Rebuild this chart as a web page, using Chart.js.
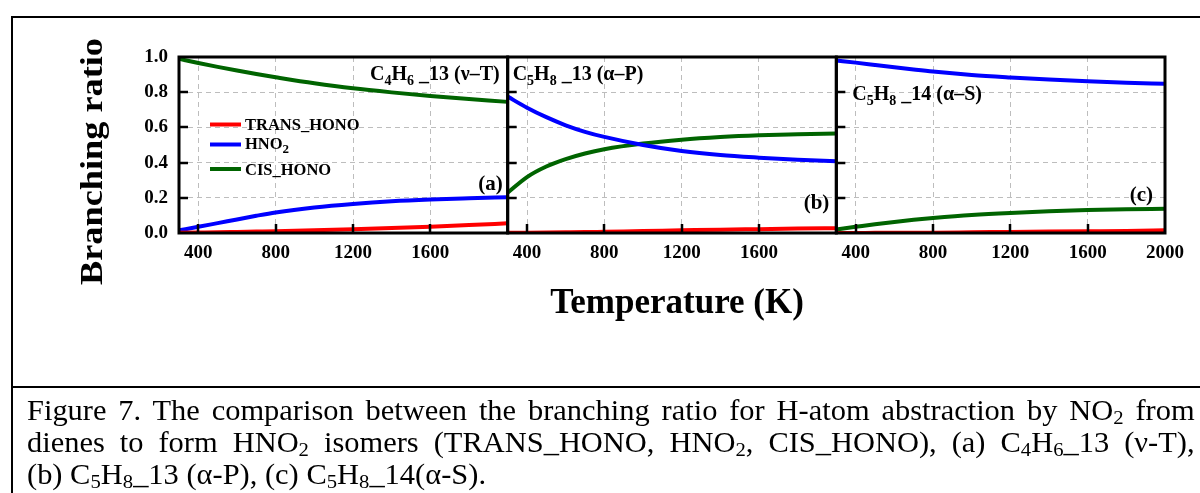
<!DOCTYPE html>
<html>
<head>
<meta charset="utf-8">
<script src="https://cdn.jsdelivr.net/npm/chart.js@4.4.1/dist/chart.umd.min.js"></script>
<style>
  html, body { margin: 0; padding: 0; background: #fff; }
  #wrap { position: relative; width: 1200px; height: 493px; overflow: hidden; background: #fff; }
  #c { position: absolute; left: 0; top: 0; }
  .rule { position: absolute; background: #000; }
  .cap { position: absolute; left: 27px; white-space: nowrap; color: #000;
         font-family: "Liberation Serif", "Times New Roman", serif; font-size: 29px; line-height: 1;
         transform: scaleX(1.05); transform-origin: 0 0; }
  .cap.j { width: 1112px; white-space: normal; text-align: justify; text-align-last: justify; }
  .cap sub { font-size: 0.68em; vertical-align: baseline; position: relative; top: 0.22em; }
</style>
</head>
<body>
<div id="wrap">
  <canvas id="c" width="1200" height="386"></canvas>
  <div class="rule" style="left:11px;top:16px;width:1189px;height:2px"></div>
  <div class="rule" style="left:11px;top:16px;width:2px;height:477px"></div>
  <div class="rule" style="left:11px;top:386px;width:1189px;height:2px"></div>
  <div class="cap j" style="top:396px">Figure 7. The comparison between the branching ratio for H-atom abstraction by NO<sub>2</sub> from</div>
  <div class="cap j" style="top:428px">dienes to form HNO<sub>2</sub> isomers (TRANS_HONO, HNO<sub>2</sub>, CIS_HONO), (a) C<sub>4</sub>H<sub>6</sub>_13 (ν-T),</div>
  <div class="cap" style="top:460px">(b) C<sub>5</sub>H<sub>8</sub>_13 (α-P), (c) C<sub>5</sub>H<sub>8</sub>_14(α-S).</div>
</div>
<script>
// Temperature grid (K)
const temps = [300, 400, 500, 600, 700, 800, 1000, 1200, 1400, 1600, 1800, 2000];

// (a) C4H6_13 (ν-T)
const transA = [0.002, 0.003, 0.004, 0.006, 0.008, 0.010, 0.015, 0.021, 0.028, 0.036, 0.045, 0.055];
const hno2A  = [0.015, 0.035, 0.056, 0.077, 0.098, 0.117, 0.145, 0.165, 0.180, 0.190, 0.197, 0.203];
const cisA   = [0.990, 0.966, 0.944, 0.923, 0.903, 0.885, 0.851, 0.822, 0.799, 0.779, 0.762, 0.745];

// (b) C5H8_13 (α-P)
const transB = [0.001, 0.002, 0.003, 0.004, 0.005, 0.007, 0.011, 0.015, 0.019, 0.022, 0.025, 0.027];
const hno2B  = [0.775, 0.712, 0.658, 0.612, 0.575, 0.546, 0.500, 0.466, 0.443, 0.428, 0.416, 0.407];
const cisB   = [0.229, 0.318, 0.378, 0.420, 0.452, 0.476, 0.508, 0.530, 0.545, 0.555, 0.561, 0.566];

// (c) C5H8_14 (α-S)
const transC = [0.000, 0.000, 0.001, 0.001, 0.002, 0.002, 0.004, 0.006, 0.008, 0.010, 0.012, 0.015];
const hno2C  = [0.980, 0.968, 0.955, 0.942, 0.929, 0.917, 0.898, 0.884, 0.872, 0.862, 0.854, 0.848];
const cisC   = [0.020, 0.035, 0.050, 0.063, 0.075, 0.085, 0.102, 0.114, 0.123, 0.130, 0.135, 0.138];

const seriesNames  = ['TRANS_HONO', 'HNO2', 'CIS_HONO'];
const seriesColors = ['#ff0000', '#0000ff', '#006400'];

const xTicksAB = [400, 800, 1200, 1600];
const xTicksC  = [400, 800, 1200, 1600, 2000];
const yTicks      = [0, 0.2, 0.4, 0.6, 0.8, 1.0];
const yTickLabels = ['0.0', '0.2', '0.4', '0.6', '0.8', '1.0'];

const SERIF = '"Liberation Serif", "Times New Roman", serif';

const panels = [
  { id: 'xa', series: [transA, hno2A, cisA], ticks: xTicksAB },
  { id: 'xb', series: [transB, hno2B, cisB], ticks: xTicksAB },
  { id: 'xc', series: [transC, hno2C, cisC], ticks: xTicksC }
];

const datasets = [];
panels.forEach(p => {
  p.series.forEach((vals, i) => {
    datasets.push({
      label: seriesNames[i],
      xAxisID: p.id,
      yAxisID: 'y',
      data: temps.map((t, k) => ({ x: t, y: vals[k] })),
      borderColor: seriesColors[i],
      backgroundColor: seriesColors[i],
      borderWidth: 4,
      pointRadius: 0,
      cubicInterpolationMode: 'monotone',
      fill: false
    });
  });
});

function xScale(tickVals) {
  return {
    type: 'linear', position: 'bottom', stack: 'temperature', stackWeight: 1,
    min: 300, max: 2000,
    afterBuildTicks: s => { s.ticks = tickVals.map(v => ({ value: v })); },
    afterFit: s => { s.height = 40; },
    grid: { drawTicks: false, color: '#bdbdbd', lineWidth: 1 },
    border: { display: false, dash: [5, 4] },
    ticks: { padding: 9, color: '#000', autoSkip: false, maxRotation: 0,
             font: { family: SERIF, size: 19, weight: 'bold' },
             callback: v => String(v) }
  };
}

// rich text with subscripts: parts = [[text, isSub], ...]
function drawRich(ctx, parts, x, y, size, align, subScale) {
  const sc = subScale || 0.72;
  const base = `bold ${size}px ${SERIF}`;
  const sub = `bold ${Math.round(size * sc)}px ${SERIF}`;
  let w = 0;
  parts.forEach(([t, s]) => { ctx.font = s ? sub : base; w += ctx.measureText(t).width; });
  let cx = align === 'right' ? x - w : x;
  ctx.textAlign = 'left';
  ctx.textBaseline = 'alphabetic';
  parts.forEach(([t, s]) => {
    ctx.font = s ? sub : base;
    ctx.fillText(t, cx, y + (s ? size * 0.26 : 0));
    cx += ctx.measureText(t).width;
  });
}

const legendParts = [
  [['TRANS_HONO']],
  [['HNO'], ['2', 1]],
  [['CIS_HONO']]
];

const decor = {
  id: 'decor',
  afterDraw(chart) {
    const ctx = chart.ctx;
    const area = chart.chartArea;
    const ys = chart.scales.y;
    ctx.save();
    ctx.fillStyle = '#000';
    ctx.strokeStyle = '#000';

    panels.forEach(p => {
      const xs = chart.scales[p.id];
      // inward tick marks
      ctx.lineWidth = 2.5;
      ctx.beginPath();
      yTicks.slice(1, -1).forEach(v => {
        const py = Math.round(ys.getPixelForValue(v));
        ctx.moveTo(xs.left, py); ctx.lineTo(xs.left + 9, py);
      });
      p.ticks.forEach(v => {
        if (v >= 2000) return;
        const px = Math.round(xs.getPixelForValue(v));
        ctx.moveTo(px, area.bottom); ctx.lineTo(px, area.bottom - 9);
      });
      ctx.stroke();
      // frame
      ctx.lineWidth = 3;
      ctx.strokeRect(xs.left, area.top, xs.right - xs.left, area.bottom - area.top);
    });

    const xa = chart.scales.xa, xb = chart.scales.xb, xc = chart.scales.xc;

    // panel labels
    drawRich(ctx, [['C'], ['4', 1], ['H'], ['6', 1], [' _13 (ν–T)']], xa.right - 8, area.top + 23, 20, 'right');
    drawRich(ctx, [['C'], ['5', 1], ['H'], ['8', 1], [' _13 (α–P)']], xb.left + 5, area.top + 23, 20, 'left');
    drawRich(ctx, [['C'], ['5', 1], ['H'], ['8', 1], [' _14 (α–S)']], xc.left + 16, area.top + 43, 20, 'left');
    drawRich(ctx, [['(a)']], xa.right - 5, area.top + 133, 21, 'right');
    drawRich(ctx, [['(b)']], xb.right - 7, area.top + 152, 21, 'right');
    drawRich(ctx, [['(c)']], xc.right - 12, area.top + 144, 21, 'right');

    // legend (series of panel a)
    const rowsY = [124.5, 144.5, 169];
    const baseY = [130, 149, 174.5];
    seriesColors.forEach((col, i) => {
      ctx.strokeStyle = col;
      ctx.lineWidth = 4;
      ctx.beginPath();
      ctx.moveTo(210, rowsY[i]); ctx.lineTo(241, rowsY[i]);
      ctx.stroke();
      ctx.fillStyle = '#000';
      drawRich(ctx, legendParts[i], 245, baseY[i], 16.5, 'left', 0.8);
    });

    // axis titles
    ctx.fillStyle = '#000';
    ctx.font = `bold 35px ${SERIF}`;
    ctx.textAlign = 'center';
    ctx.textBaseline = 'alphabetic';
    ctx.fillText('Temperature (K)', 677, 313);

    ctx.save();
    ctx.translate(102, 161.5);
    ctx.rotate(-Math.PI / 2);
    ctx.font = `bold 31px ${SERIF}`;
    const w = ctx.measureText('Branching ratio').width;
    ctx.scale(247 / w, 1);
    ctx.fillText('Branching ratio', 0, 0);
    ctx.restore();

    ctx.restore();
  }
};

new Chart(document.getElementById('c'), {
  type: 'line',
  data: { datasets },
  options: {
    responsive: false,
    animation: false,
    events: [],
    layout: { padding: { left: 0, top: 57, right: 35, bottom: 113 } },
    plugins: { legend: { display: false }, tooltip: { enabled: false } },
    scales: {
      xa: xScale(xTicksAB),
      xb: xScale(xTicksAB),
      xc: xScale(xTicksC),
      y: {
        type: 'linear', position: 'left', min: 0, max: 1,
        afterBuildTicks: s => { s.ticks = yTicks.map(v => ({ value: v })); },
        afterFit: s => { s.width = 179; },
        grid: { drawTicks: false, color: '#bdbdbd', lineWidth: 1 },
        border: { display: false, dash: [5, 4] },
        ticks: { padding: 11, color: '#000',
                 font: { family: SERIF, size: 19, weight: 'bold' },
                 callback: (v, i) => yTickLabels[i] }
      }
    }
  },
  plugins: [decor]
});
</script>
</body>
</html>
